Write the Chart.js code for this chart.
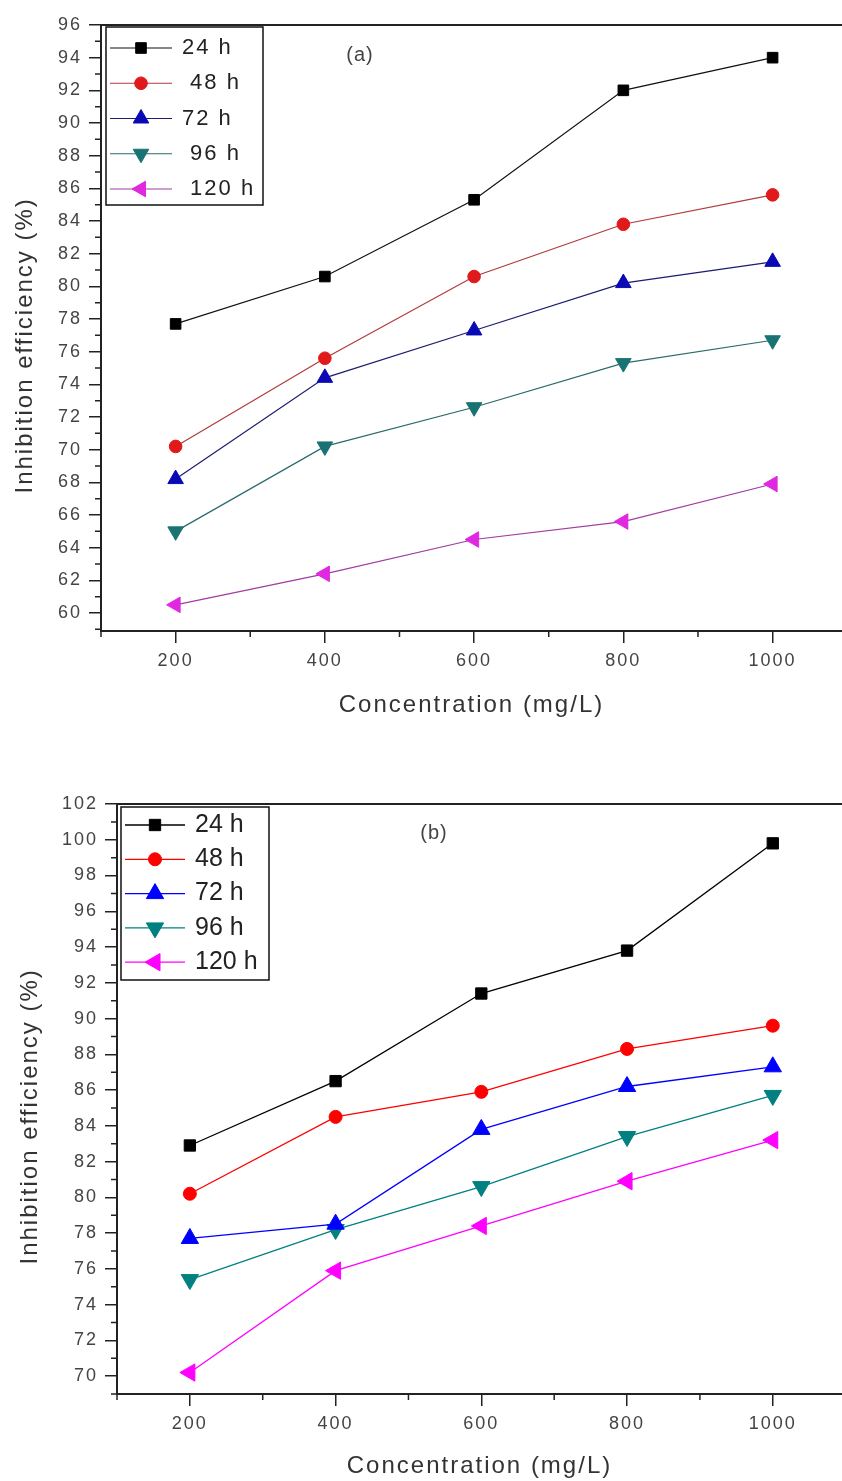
<!DOCTYPE html>
<html>
<head>
<meta charset="utf-8">
<script src="https://cdn.jsdelivr.net/npm/chart.js@4.4.1/dist/chart.umd.min.js"></script>
<style>
  html, body { margin: 0; padding: 0; background: #fff; overflow: hidden; }
  .panel { position: absolute; left: 0; width: 842px; }
</style>
</head>
<body>
<div class="panel" style="top:0;height:740px"><canvas id="chartA" width="842" height="740"></canvas></div>
<div class="panel" style="top:740px;height:741px"><canvas id="chartB" width="842" height="741"></canvas></div>
<script>
// concentrations (mg/L)
const concentrations = [200, 400, 600, 800, 1000];

// panel (a)
const labelsA = ["24 h", " 48 h", "72 h", " 96 h", " 120 h"];
const a24 = [77.7, 80.6, 85.3, 92.0, 94.0];
const a48 = [70.2, 75.6, 80.6, 83.8, 85.6];
const a72 = [68.2, 74.4, 77.3, 80.2, 81.5];
const a96 = [65.0, 70.2, 72.6, 75.3, 76.7];
const a120 = [60.5, 62.4, 64.5, 65.6, 67.9];

// panel (b)
const labelsB = ["24 h", "48 h", "72 h", "96 h", "120 h"];
const b24 = [82.9, 86.5, 91.4, 93.8, 99.8];
const b48 = [80.2, 84.5, 85.9, 88.3, 89.6];
const b72 = [77.7, 78.5, 83.8, 86.2, 87.3];
const b96 = [75.4, 78.2, 80.6, 83.4, 85.7];
const b120 = [70.2, 75.9, 78.4, 80.9, 83.2];

// ticks
const xTicks = [200, 400, 600, 800, 1000];
const xMinorTicks = [100, 300, 500, 700, 900];
const yTicksA = [60, 62, 64, 66, 68, 70, 72, 74, 76, 78, 80, 82, 84, 86, 88, 90, 92, 94, 96];
const yMinorTicksA = [59, 61, 63, 65, 67, 69, 71, 73, 75, 77, 79, 81, 83, 85, 87, 89, 91, 93, 95];
const yTicksB = [70, 72, 74, 76, 78, 80, 82, 84, 86, 88, 90, 92, 94, 96, 98, 100, 102];
const yMinorTicksB = [69, 71, 73, 75, 77, 79, 81, 83, 85, 87, 89, 91, 93, 95, 97, 99, 101];

const fontFamily = '"Liberation Sans", Arial, sans-serif';
// trailing spaces nudge the rotated title a little lower, like the original
const yTitle = 'Inhibition efficiency (%)    ';

const spacingPlugin = {
  id: 'spacing',
  beforeUpdate(chart) { chart.ctx.letterSpacing = '2px'; },
  beforeDraw(chart) { chart.ctx.letterSpacing = '2px'; }
};

// minor ticks + top frame line
const frameTicksPlugin = {
  id: 'frameTicks',
  afterDraw(chart, args, o) {
    const ctx = chart.ctx, xs = chart.scales.x, ys = chart.scales.y, area = chart.chartArea;
    ctx.save();
    ctx.strokeStyle = '#222';
    ctx.lineWidth = 1.5;
    ctx.beginPath();
    o.x.forEach(v => {
      const px = xs.getPixelForValue(v);
      ctx.moveTo(px, area.bottom);
      ctx.lineTo(px, area.bottom + o.length);
    });
    o.y.forEach(v => {
      const py = ys.getPixelForValue(v);
      ctx.moveTo(area.left, py);
      ctx.lineTo(area.left - o.length, py);
    });
    ctx.stroke();
    ctx.lineWidth = 2;
    ctx.beginPath();
    ctx.moveTo(area.left, area.top);
    ctx.lineTo(area.right, area.top);
    ctx.stroke();
    ctx.restore();
  }
};

function marker(ctx, ds, x, y) {
  const opts = { pointStyle: ds.pointStyle, rotation: ds.pointRotation || 0, radius: ds.pointRadius, borderWidth: 1 };
  ctx.fillStyle = ds.pointBackgroundColor;
  ctx.strokeStyle = ds.pointBorderColor;
  ctx.lineWidth = 1;
  Chart.helpers.drawPoint(ctx, opts, x, y);
}

// boxed legend inside plot + panel tag
const boxLegendPlugin = {
  id: 'boxLegend',
  afterDraw(chart, args, o) {
    const ctx = chart.ctx, area = chart.chartArea;
    const x0 = area.left + o.left, y0 = area.top + o.top;
    ctx.save();
    ctx.fillStyle = '#fff';
    ctx.fillRect(x0, y0, o.width, o.height);
    ctx.strokeStyle = '#111';
    ctx.lineWidth = 1.5;
    ctx.strokeRect(x0, y0, o.width, o.height);
    ctx.font = o.font;
    ctx.letterSpacing = o.spacing;
    ctx.textBaseline = 'middle';
    ctx.textAlign = 'left';
    chart.data.datasets.forEach((ds, i) => {
      const y = y0 + o.firstRow + i * o.rowGap;
      ctx.strokeStyle = ds.borderColor;
      ctx.lineWidth = ds.borderWidth;
      ctx.beginPath();
      ctx.moveTo(x0 + o.lineStart, y);
      ctx.lineTo(x0 + o.lineEnd, y);
      ctx.stroke();
      marker(ctx, ds, x0 + (o.lineStart + o.lineEnd) / 2, y);
      ctx.fillStyle = '#222';
      ctx.fillText(ds.label, x0 + o.textX, y);
    });
    ctx.letterSpacing = '1px';
    ctx.font = '20px ' + fontFamily;
    ctx.fillStyle = '#444';
    ctx.textAlign = 'center';
    ctx.fillText(o.tag, area.left + o.tagX, area.top + o.tagY);
    ctx.restore();
  }
};

function series(label, values, lineColor, pointColor, style, radius, rotation, width) {
  return {
    label: label,
    data: concentrations.map((c, i) => ({ x: c, y: values[i] })),
    borderColor: lineColor,
    borderWidth: width,
    pointBackgroundColor: pointColor,
    pointBorderColor: pointColor,
    pointBorderWidth: 1,
    pointStyle: style,
    pointRadius: radius,
    pointRotation: rotation,
    tension: 0,
    fill: false
  };
}

function buildChart(id, cfg) {
  return new Chart(document.getElementById(id), {
    type: 'line',
    data: { datasets: cfg.datasets },
    options: {
      responsive: false,
      animation: false,
      devicePixelRatio: 1,
      layout: { padding: cfg.padding, autoPadding: false },
      plugins: {
        legend: { display: false },
        tooltip: { enabled: false },
        frameTicks: { x: xMinorTicks, y: cfg.yMinor, length: 6 },
        boxLegend: cfg.legend
      },
      scales: {
        x: {
          type: 'linear',
          min: 100,
          max: cfg.xMax,
          afterBuildTicks: s => { s.ticks = xTicks.map(v => ({ value: v })); },
          afterFit: s => { s.height = cfg.xHeight; },
          grid: { drawOnChartArea: false, drawTicks: true, tickLength: 12, color: '#222', lineWidth: 1.5 },
          border: { display: true, color: '#222', width: 2 },
          ticks: { color: '#444', font: { family: fontFamily, size: 18 }, padding: 7, maxRotation: 0, callback: v => String(v) },
          title: { display: true, text: 'Concentration (mg/L)', color: '#333', font: { family: fontFamily, size: 24, lineHeight: 1 }, padding: { top: 0, bottom: 0 } }
        },
        y: {
          type: 'linear',
          min: cfg.yMin,
          max: cfg.yMax,
          afterBuildTicks: s => { s.ticks = cfg.yTicks.map(v => ({ value: v })); },
          afterFit: s => { s.width = cfg.yWidth; },
          grid: { drawOnChartArea: false, drawTicks: true, tickLength: 12, color: '#222', lineWidth: 1.5 },
          border: { display: true, color: '#222', width: 2 },
          ticks: { color: '#444', font: { family: fontFamily, size: 18 }, padding: 7, callback: v => String(v) },
          title: { display: true, text: yTitle, color: '#333', font: { family: fontFamily, size: 24, lineHeight: 1 }, padding: { top: cfg.yTitlePad, bottom: 0 } }
        }
      }
    },
    plugins: [spacingPlugin, frameTicksPlugin, boxLegendPlugin]
  });
}

buildChart('chartA', {
  datasets: [
    series(labelsA[0], a24, '#111111', '#000000', 'rect', 7.5, 0, 1.2),
    series(labelsA[1], a48, '#b23a3a', '#e01a1a', 'circle', 6.3, 0, 1.2),
    series(labelsA[2], a72, '#1c1c70', '#0a0ab4', 'triangle', 9, 0, 1.2),
    series(labelsA[3], a96, '#2a6a6a', '#1a7373', 'triangle', 9, 180, 1.2),
    series(labelsA[4], a120, '#a03ca0', '#e028e0', 'triangle', 9, -90, 1.2)
  ],
  padding: { left: 8, top: 25, right: 0, bottom: 23 },
  xMax: 1093, xHeight: 86,
  yMin: 58.9, yMax: 96, yTicks: yTicksA, yMinor: yMinorTicksA, yWidth: 93, yTitlePad: 5,
  legend: {
    left: 5, top: 2, width: 157, height: 178, firstRow: 21, rowGap: 35.25,
    lineStart: 4, lineEnd: 66, textX: 76, font: '22px ' + fontFamily, spacing: '2px',
    tag: '(a)', tagX: 259, tagY: 30
  }
});

buildChart('chartB', {
  datasets: [
    series(labelsB[0], b24, '#000000', '#000000', 'rect', 8, 0, 1.3),
    series(labelsB[1], b48, '#ff0000', '#ff0000', 'circle', 6.5, 0, 1.3),
    series(labelsB[2], b72, '#0000ff', '#0000ff', 'triangle', 10, 0, 1.3),
    series(labelsB[3], b96, '#008080', '#008080', 'triangle', 10, 180, 1.3),
    series(labelsB[4], b120, '#ff00ff', '#ff00ff', 'triangle', 10, -90, 1.3)
  ],
  padding: { left: 10, top: 64, right: 0, bottom: 3 },
  xMax: 1095, xHeight: 84,
  yMin: 69, yMax: 102, yTicks: yTicksB, yMinor: yMinorTicksB, yWidth: 107, yTitlePad: 8,
  legend: {
    left: 4, top: 3, width: 148, height: 173, firstRow: 18, rowGap: 34.3,
    lineStart: 4, lineEnd: 64, textX: 74, font: '25px ' + fontFamily, spacing: '0px',
    tag: '(b)', tagX: 317, tagY: 29
  }
});
</script>
</body>
</html>
